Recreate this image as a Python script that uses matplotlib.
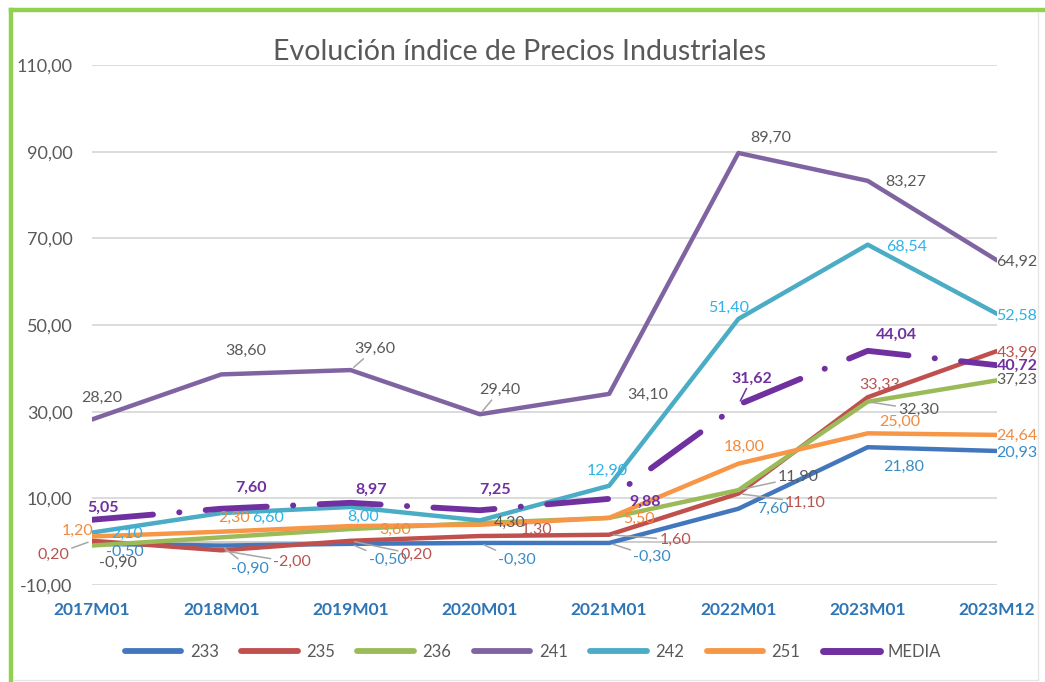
"""Evolución índice de Precios Industriales — line chart with data labels."""

import matplotlib

matplotlib.use("Agg")
import matplotlib.pyplot as plt
from matplotlib.lines import Line2D

plt.rcParams["font.family"] = ["Lato", "DejaVu Sans"]

# ---------------------------------------------------------------- data
PERIODS = ["2017M01", "2018M01", "2019M01", "2020M01", "2021M01", "2022M01", "2023M01", "2023M12"]
Y_TICKS = [-10, 10, 30, 50, 70, 90, 110]

S233 = [-0.50, -0.90, -0.50, -0.30, -0.30, 7.60, 21.80, 20.93]
S235 = [0.20, -2.00, 0.20, 1.30, 1.60, 11.10, 33.33, 43.99]
S236 = [-0.90, 1.00, 2.92, 4.30, 5.48, 11.90, 32.30, 37.23]
S241 = [28.20, 38.60, 39.60, 29.40, 34.10, 89.70, 83.27, 64.92]
S242 = [2.10, 6.60, 8.00, 4.90, 12.90, 51.40, 68.54, 52.58]
S251 = [1.20, 2.30, 3.60, 3.90, 5.50, 18.00, 25.00, 24.64]
MEDIA = [5.05, 7.60, 8.97, 7.25, 9.88, 31.62, 44.04, 40.72]

# ---------------------------------------------------------------- styling
GRID = "#D9D9D9"
TEXT_GREY = "#595959"
LEADER = "#A6A6A6"

# name, values, line colour, label colour, label offsets (px; None = hidden), leaders
SERIES = [
    ("233", S233, "#4277BD", "#3A8CC6",
     [(33, -8), (29, -23), (37, -16), (37, -17), (43, -14), (35, 0), (36, -20), (20, -2)],
     {1, 2, 3, 4}),
    ("235", S235, "#C0504D", "#B9534F",
     [(-39, -14), (71, -12), (66, -14), (57, 6), (66, -5), (67, -9), (12, 12), (20, -2)],
     {0, 1, 2, 4, 5}),
    ("236", S236, "#9BBB59", TEXT_GREY,
     [(26, -17), None, None, (30, 0), None, (60, 13), (51, -8), (20, 0)],
     {5, 6}),
    ("241", S241, "#8064A2", TEXT_GREY,
     [(10, 22), (24, 24), (24, 21), (20, 24), (39, -1), (32, 15), (38, -1), (20, -2)],
     {2, 3}),
    ("242", S242, "#4BACC6", "#2DB3E6",
     [(35, -1), (47, -5), (13, -10), None, (-2, 15), (-10, 11), (39, -2), (20, -2)],
     set()),
    ("251", S251, "#F79646", "#F08A3E",
     [(-14, 6), (13, 14), (45, -4), None, (30, -1), (6, 17), (32, 11), (20, -1)],
     set()),
]
MEDIA_COLOR = "#7030A0"
MEDIA_OFFSETS = [(11, 12), (30, 21), (21, 13), (15, 20), (36, -3), (13, 26), (29, 16), (20, -1)]


def fmt(v):
    return f"{v:.2f}".replace(".", ",")


fig = plt.figure(figsize=(10.45, 6.82), dpi=100)
ax = fig.add_axes([92 / 1045, 97 / 682, 905 / 1045, 520 / 682])

x = list(range(len(PERIODS)))

for name, vals, lc, tc, offsets, leaders in SERIES:
    ax.plot(x, vals, color=lc, lw=3.2, solid_capstyle="round", solid_joinstyle="round", zorder=3)

ax.plot(x, MEDIA, color=MEDIA_COLOR, lw=4.2, dashes=(10.5, 4.5, 0.05, 4.5),
        dash_capstyle="round", zorder=4)

for name, vals, lc, tc, offsets, leaders in SERIES:
    for i, (v, off) in enumerate(zip(vals, offsets)):
        if off is None:
            continue
        kw = {}
        if i in leaders:
            kw["arrowprops"] = dict(arrowstyle="-", color=LEADER, lw=1.1, shrinkA=0, shrinkB=3)
        ax.annotate(fmt(v), (i, v), xytext=off, textcoords="offset pixels",
                    ha="center", va="center", fontsize=11.5, color=tc, zorder=6, **kw)

for i, (v, off) in enumerate(zip(MEDIA, MEDIA_OFFSETS)):
    kw = {}
    if i == 5:
        kw["arrowprops"] = dict(arrowstyle="-", color=MEDIA_COLOR, lw=1.1, shrinkA=0, shrinkB=3)
    ax.annotate(fmt(v), (i, v), xytext=off, textcoords="offset pixels",
                ha="center", va="center", fontsize=11.5, color=MEDIA_COLOR,
                fontweight="bold", zorder=6, **kw)

ax.set_xlim(0, len(PERIODS) - 1)
ax.set_ylim(-10, 110)
ax.set_yticks(Y_TICKS)
ax.set_yticklabels([fmt(t) for t in Y_TICKS])
ax.set_xticks(x)
ax.set_xticklabels(PERIODS)
ax.tick_params(axis="y", length=0, pad=14, labelsize=13, labelcolor=TEXT_GREY)
ax.tick_params(axis="x", length=0, pad=12, labelsize=12.5, labelcolor="#2E75B6")
for lab in ax.get_xticklabels():
    lab.set_fontweight("bold")
ax.grid(axis="y", color=GRID, lw=1.3)
ax.axhline(0, color="#C8C8C8", lw=1.3, zorder=1)
ax.set_axisbelow(True)
for sp in ax.spines.values():
    sp.set_visible(False)

fig.text(520 / 1045, 1 - 52 / 682, "Evolución índice de Precios Industriales",
         ha="center", va="center", fontsize=20.5, color=TEXT_GREY)

handles = [Line2D([], [], color=lc, lw=4.2, solid_capstyle="round") for _, _, lc, *_ in SERIES]
handles.append(Line2D([], [], color=MEDIA_COLOR, lw=5, solid_capstyle="round"))
labels = [s[0] for s in SERIES] + ["MEDIA"]
fig.legend(handles, labels, loc="center", bbox_to_anchor=(533 / 1045, 30 / 682), ncol=7,
           frameon=False, fontsize=12, labelcolor=TEXT_GREY, handlelength=3.4,
           handletextpad=0.5, columnspacing=1.35)

# green frame (top and left), faint grey on the other sides
fig.add_artist(Line2D([11 / 1045, 11 / 1045], [0, 1 - 10 / 682], color="#92D050", lw=3.2))
fig.add_artist(Line2D([11 / 1045, 1], [1 - 10 / 682, 1 - 10 / 682], color="#92D050", lw=3.2))
fig.add_artist(Line2D([1038 / 1045, 1038 / 1045], [2 / 682, 1 - 13 / 682], color="#E6E6E6", lw=1))
fig.add_artist(Line2D([13 / 1045, 1038 / 1045], [2 / 682, 2 / 682], color="#E6E6E6", lw=1))

fig.savefig("out.png", dpi=100)
